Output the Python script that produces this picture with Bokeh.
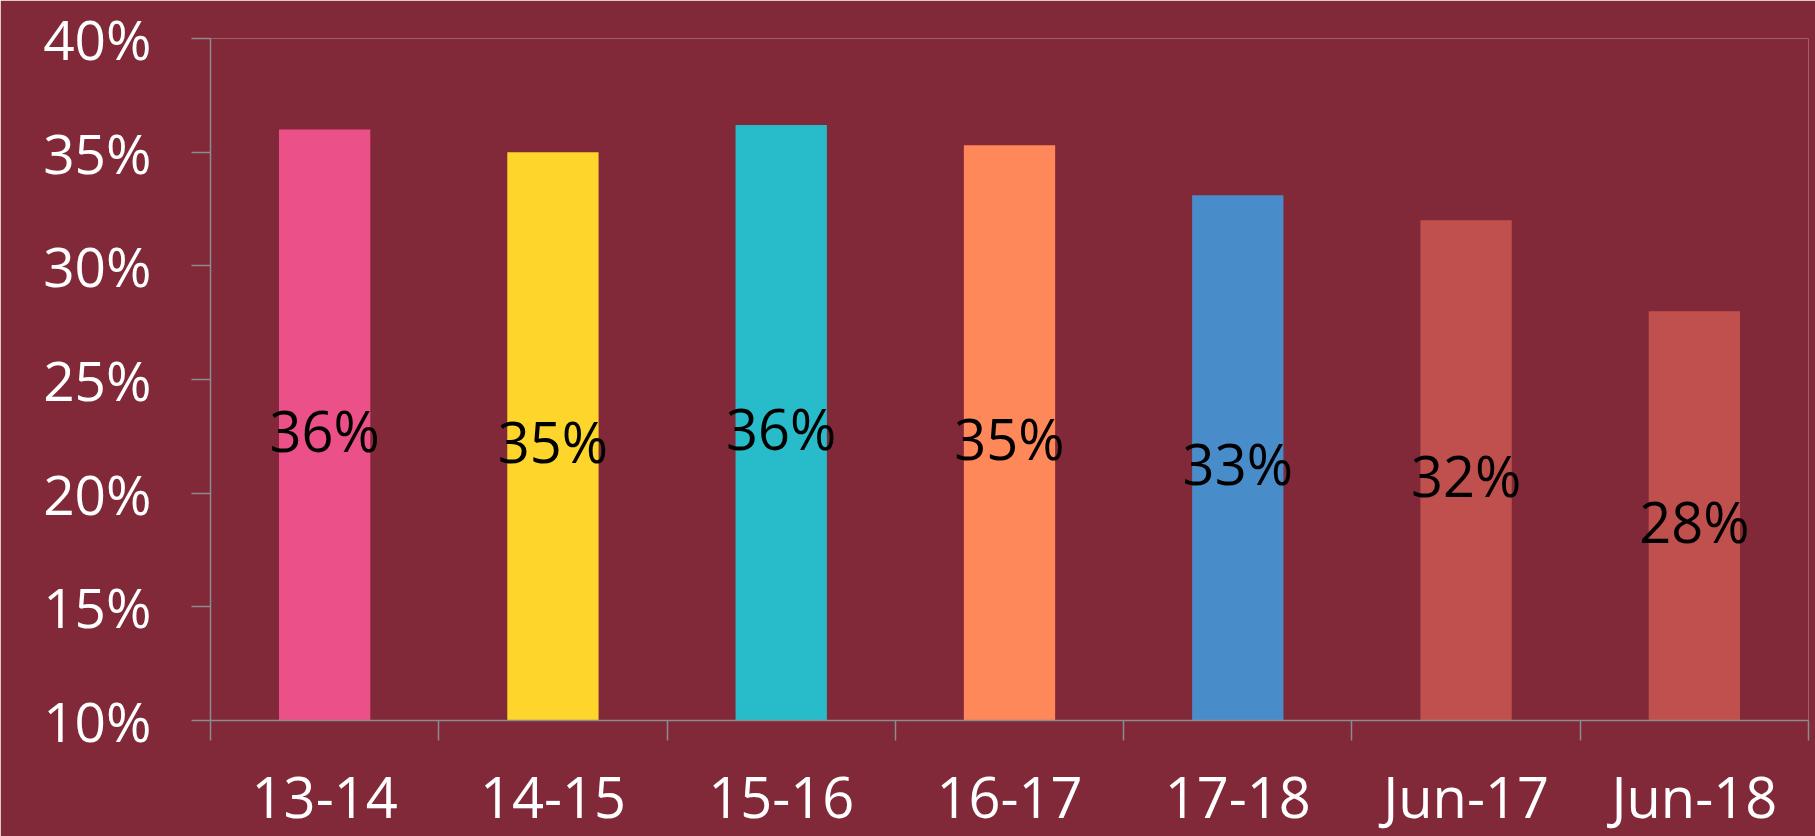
from bokeh.plotting import figure
from bokeh.models import ColumnDataSource, FixedTicker, NumeralTickFormatter, Range1d
from bokeh.embed import file_html
from bokeh.resources import INLINE
from bokeh.core.properties import value

categories = ["13-14", "14-15", "15-16", "16-17", "17-18", "Jun-17", "Jun-18"]
shares = [0.360, 0.350, 0.362, 0.353, 0.331, 0.320, 0.280]
bar_colors = ["#EC5088", "#FDD52B", "#28BCCA", "#FE885A", "#488DCA", "#C0504D", "#C0504D"]
y_ticks = [0.10, 0.15, 0.20, 0.25, 0.30, 0.35, 0.40]

Y_MIN, Y_MAX = 0.10, 0.40
BG = "#812938"
AXIS = "#8C8C8C"
FONT = "Open Sans"

centers = [i + 0.5 for i in range(len(categories))]
bounds = list(range(len(categories) + 1))
labels = [f"{round(v * 100)}%" for v in shares]
mids = [(Y_MIN + v) / 2 for v in shares]

src = ColumnDataSource(dict(x=centers, top=shares, color=bar_colors, label=labels, mid=mids))

p = figure(width=1815, height=836, output_backend="svg", toolbar_location=None,
           x_range=Range1d(0, len(categories)), y_range=Range1d(Y_MIN, Y_MAX),
           min_border_left=210, min_border_right=7, min_border_top=38, min_border_bottom=116)
p.background_fill_color = BG
p.border_fill_color = BG
p.outline_line_color = None
p.xgrid.visible = False
p.ygrid.visible = False

p.vbar(x="x", top="top", bottom=Y_MIN, width=0.4, fill_color="color", line_color=None, source=src)
p.text(x="x", y="mid", text="label", source=src, text_align="center", text_baseline="middle",
       y_offset=5, text_font=value(FONT), text_font_size="56px", text_color="black")

# y axis
p.yaxis.ticker = FixedTicker(ticks=y_ticks)
p.yaxis.formatter = NumeralTickFormatter(format="0%")
p.yaxis.major_label_text_color = "white"
p.yaxis.major_label_text_font = FONT
p.yaxis.major_label_text_font_size = "55px"
p.yaxis.major_label_standoff = 40
p.yaxis.axis_line_color = AXIS
p.yaxis.axis_line_width = 1.5
p.yaxis.major_tick_line_color = AXIS
p.yaxis.major_tick_line_width = 1.5
p.yaxis.major_tick_out = 19
p.yaxis.major_tick_in = 0
p.yaxis.minor_tick_line_color = None

# x axis: labels at category centres, ticks at category boundaries
p.xaxis.ticker = FixedTicker(ticks=centers, minor_ticks=bounds)
p.xaxis.major_label_overrides = {c: n for c, n in zip(centers, categories)}
p.xaxis.major_label_text_color = "white"
p.xaxis.major_label_text_font = FONT
p.xaxis.major_label_text_font_size = "56px"
p.xaxis.major_label_standoff = 17
p.xaxis.axis_line_color = AXIS
p.xaxis.axis_line_width = 1.5
p.xaxis.major_tick_line_color = None
p.xaxis.major_tick_out = 20
p.xaxis.major_tick_in = 0
p.xaxis.minor_tick_line_color = AXIS
p.xaxis.minor_tick_line_width = 1.5
p.xaxis.minor_tick_out = 20
p.xaxis.minor_tick_in = 0

open("out.html", "w").write(file_html(p, INLINE))
